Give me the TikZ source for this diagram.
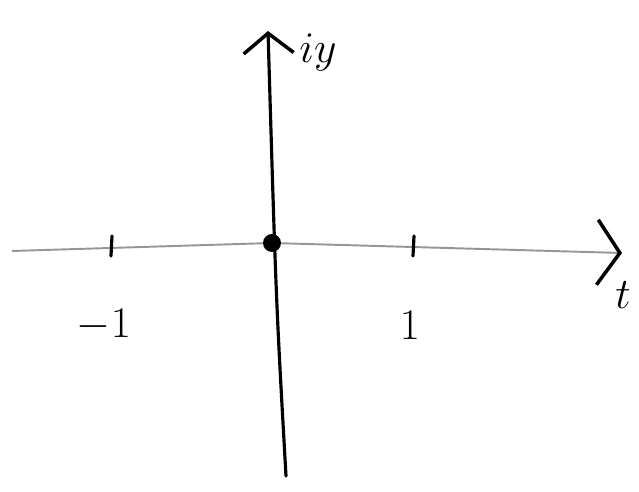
\documentclass[tikz,border=0pt]{standalone}
\usetikzlibrary{arrows.meta}

\begin{document}
\begin{tikzpicture}[x=0.02cm,y=-0.02cm]
        \definecolor{axisgray}{RGB}{150,150,150}
        \tikzset{
            penline/.style={line width=1.8pt,line cap=round},
            penlabel/.style={inner sep=0pt,font=\fontsize{24}{24}\selectfont}
        }
        \useasboundingbox (0,0) rectangle (639,492);

        % axes
        \coordinate (xleft) at (12,251);
        \coordinate (xright) at (622,253);
        \coordinate (ybottom) at (286,476);
        \coordinate (ytop) at (268,31);
        \coordinate (origin) at (272,243);

        \draw[axisgray,line width=1.1pt,
              -{Straight Barb[length=4.5mm,width=13mm,line width=2pt,color=black]}]
            (xleft) -- (origin) -- (xright);
        \draw[penline,-{Straight Barb[length=4mm,width=10mm,line width=2pt]}]
            (ybottom) .. controls (276,300) .. (ytop);

        \node[penlabel,font=\fontsize{26}{26}\selectfont] (tlabel) at (623,295) {$t$};
        \node[penlabel,font=\fontsize{38}{38}\selectfont] (iylabel) at (318,52) {$iy$};

        % ticks
        \foreach \x in {112,414}
            \draw[penline] (\x,236) -- (\x-1,256);

        \node[penlabel] (minusone) at (104,325) {$-1$};
        \node[penlabel] (plusone) at (410,325) {$1$};

        \fill (origin) circle (9);
    \end{tikzpicture}
\end{document}
